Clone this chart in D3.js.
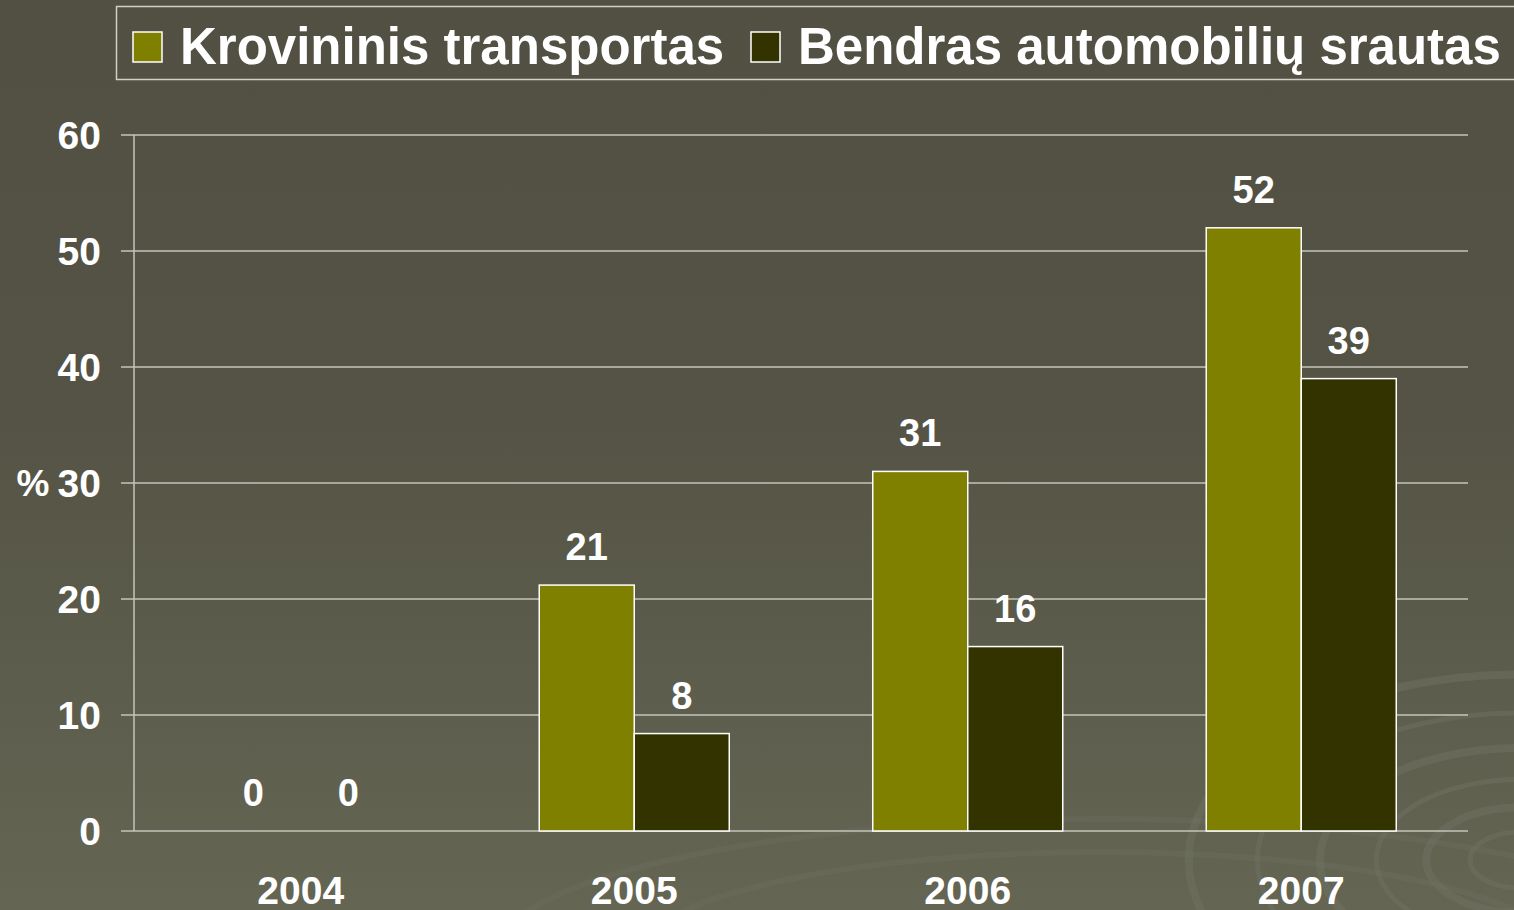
<!DOCTYPE html>
<html>
<head>
<meta charset="utf-8">
<script src="https://cdn.jsdelivr.net/npm/d3@7"></script>
<style>
  html, body { margin: 0; padding: 0; background: #525042; overflow: hidden; }
  svg { display: block; font-family: "Liberation Sans", Arial, sans-serif; font-weight: bold; }
</style>
</head>
<body>
<div id="chart"></div>
<script>
var years = ['2004', '2005', '2006', '2007'];
var seriesNames = ['Krovininis transportas', 'Bendras automobilių srautas'];
var krovininis = [0, 21.2, 31, 52];
var bendras = [0, 8.4, 15.9, 39];
var yTicks = [0, 10, 20, 30, 40, 50, 60];
var colors = ['#808000', '#333300'];

var W = 1514, H = 910;
var plotLeft = 134, plotRight = 1468, plotTop = 135, plotBottom = 831;

var svg = d3.select('#chart').append('svg')
  .attr('width', W)
  .attr('height', H);

// background
var defs = svg.append('defs');
var bg = defs.append('linearGradient')
  .attr('id', 'bg')
  .attr('x1', 0).attr('y1', 0).attr('x2', 0).attr('y2', 1);
bg.append('stop').attr('offset', '0%').attr('stop-color', '#525042');
bg.append('stop').attr('offset', '45%').attr('stop-color', '#545345');
bg.append('stop').attr('offset', '100%').attr('stop-color', '#646553');
svg.append('rect').attr('width', W).attr('height', H).attr('fill', 'url(#bg)');

// faint swirl decoration bottom right
var swirl = svg.append('g').attr('fill', 'none').attr('stroke', '#727463').attr('stroke-opacity', 0.45);
[40, 75, 115, 160, 210, 265].forEach(function(r, i) {
  swirl.append('ellipse')
    .attr('cx', 1520).attr('cy', 860)
    .attr('rx', r * 1.25).attr('ry', r * 0.7)
    .attr('stroke-width', i % 2 ? 8 : 5);
});
[360, 470].forEach(function(r) {
  swirl.append('ellipse')
    .attr('cx', 1100).attr('cy', 960)
    .attr('rx', r * 1.3).attr('ry', r * 0.3)
    .attr('stroke-width', 6).attr('stroke-opacity', 0.3);
});

var x0 = d3.scaleBand()
  .domain(years)
  .range([plotLeft, plotRight])
  .paddingInner(0).paddingOuter(0);

var x1 = d3.scaleBand()
  .domain(seriesNames)
  .range([0, x0.bandwidth()])
  .paddingInner(0)
  .paddingOuter(0.755);

var y = d3.scaleLinear()
  .domain([0, 60])
  .range([plotBottom, plotTop]);

// gridlines + ticks
svg.append('g').selectAll('line')
  .data(yTicks)
  .enter().append('line')
  .attr('x1', plotLeft - 13)
  .attr('x2', plotRight)
  .attr('y1', function(d) { return y(d); })
  .attr('y2', function(d) { return y(d); })
  .attr('stroke', '#c4c4bb')
  .attr('stroke-width', 1.5);

svg.append('line')
  .attr('x1', plotLeft).attr('x2', plotLeft)
  .attr('y1', plotTop).attr('y2', plotBottom)
  .attr('stroke', '#c4c4bb')
  .attr('stroke-width', 1.5);

svg.append('g').selectAll('text')
  .data(yTicks)
  .enter().append('text')
  .attr('x', 101)
  .attr('y', function(d) { return y(d); })
  .attr('dy', '0.36em')
  .attr('text-anchor', 'end')
  .attr('fill', '#fff')
  .style('font-size', '39px')
  .text(function(d) { return d; });

svg.append('text')
  .attr('x', 33)
  .attr('y', y(30))
  .attr('dy', '0.36em')
  .attr('text-anchor', 'middle')
  .attr('fill', '#fff')
  .style('font-size', '37px')
  .text('%');

// x labels
svg.append('g').selectAll('text')
  .data(years)
  .enter().append('text')
  .attr('x', function(d) { return x0(d) + x0.bandwidth() / 2; })
  .attr('y', 904)
  .attr('text-anchor', 'middle')
  .attr('fill', '#fff')
  .style('font-size', '39px')
  .text(function(d) { return d; });

// bars
var rows = years.map(function(yr, i) {
  return { year: yr, values: [krovininis[i], bendras[i]] };
});

var groups = svg.append('g').selectAll('g')
  .data(rows)
  .enter().append('g')
  .attr('transform', function(d) { return 'translate(' + x0(d.year) + ',0)'; });

groups.selectAll('rect')
  .data(function(d) { return d.values.map(function(v, j) { return { name: seriesNames[j], v: v, j: j }; }).filter(function(e) { return e.v > 0; }); })
  .enter().append('rect')
  .attr('x', function(d) { return x1(d.name); })
  .attr('width', x1.bandwidth())
  .attr('y', function(d) { return y(d.v); })
  .attr('height', function(d) { return y(0) - y(d.v); })
  .attr('fill', function(d) { return colors[d.j]; })
  .attr('stroke', '#ffffff')
  .attr('stroke-width', 1.5);

groups.selectAll('text')
  .data(function(d) { return d.values.map(function(v, j) { return { name: seriesNames[j], v: v }; }); })
  .enter().append('text')
  .attr('x', function(d) { return x1(d.name) + x1.bandwidth() / 2; })
  .attr('y', function(d) { return y(d.v) - 25; })
  .attr('text-anchor', 'middle')
  .attr('fill', '#fff')
  .style('font-size', '38px')
  .text(function(d) { return Math.round(d.v); });

// legend
var legend = svg.append('g');
legend.append('rect')
  .attr('x', 116.5).attr('y', 6.5)
  .attr('width', 1420).attr('height', 73)
  .attr('fill', 'none')
  .attr('stroke', '#d0d0c8')
  .attr('stroke-width', 1.5);

var legendX = [133, 751];
seriesNames.forEach(function(name, i) {
  legend.append('rect')
    .attr('x', legendX[i]).attr('y', 32)
    .attr('width', 29).attr('height', 30)
    .attr('fill', colors[i])
    .attr('stroke', '#ffffff')
    .attr('stroke-width', 1.5);
  legend.append('text')
    .attr('x', legendX[i] + 47)
    .attr('y', 64)
    .attr('fill', '#fff')
    .style('font-size', '51px')
    .text(name);
});
</script>
</body>
</html>
